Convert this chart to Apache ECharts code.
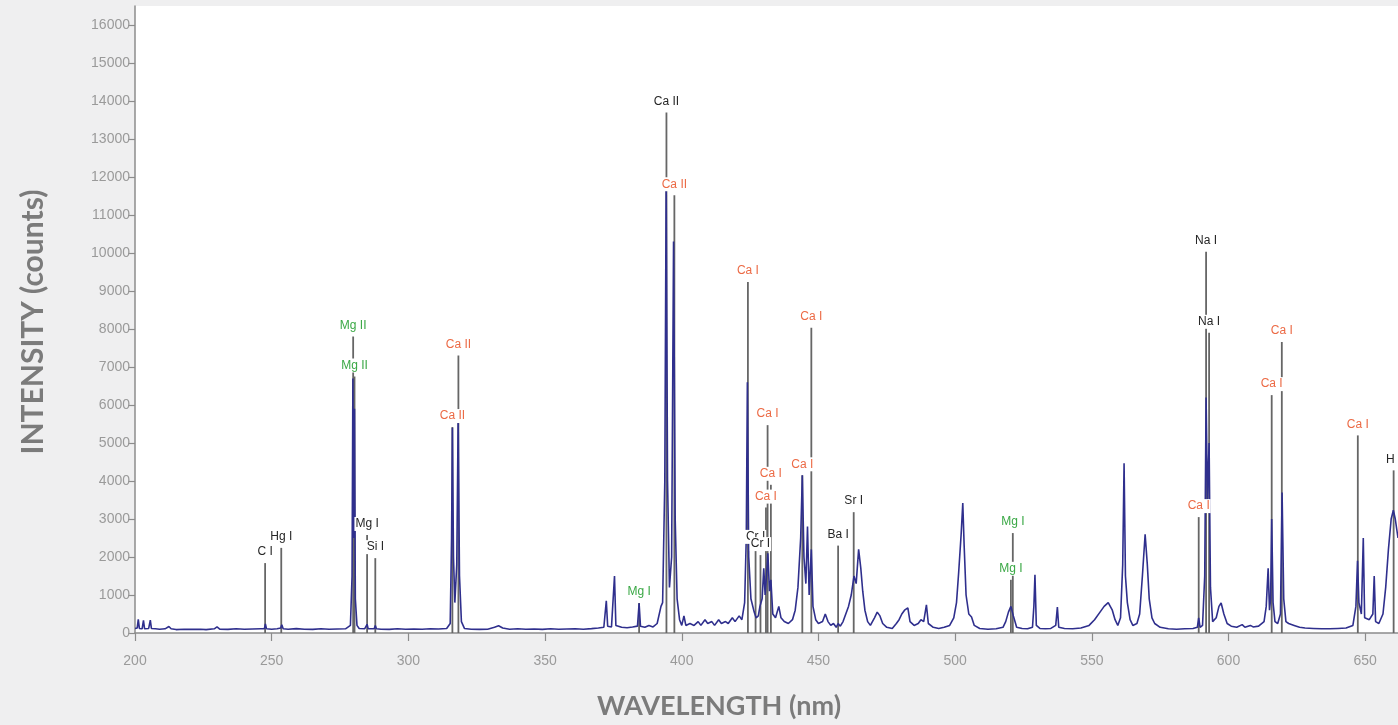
<!DOCTYPE html>
<html>
<head>
<meta charset="utf-8">
<script src="https://cdn.jsdelivr.net/npm/echarts@6/dist/echarts.min.js"></script>
<style>
  html, body { margin: 0; padding: 0; background: #efeff0; }
  #chart { width: 1398px; height: 725px; }
</style>
</head>
<body>
<div id="chart"></div>
<script>
// Emission spectrum, [wavelength nm, intensity counts]
const spectrum = [
  [200,120],[200.8,130],[201.2,360],[201.6,120],[202.6,110],[203.1,330],[203.5,110],[205,120],[205.6,340],[206,120],
  [207.5,110],[209,100],[211,110],[212.4,170],[213.2,110],[215,90],[218,100],[221,95],[224,100],[226,90],[229,110],
  [230,160],[231,100],[234,95],[237,110],[240,100],[243,105],[246,110],[247.3,110],[247.7,240],[248.1,110],[250,100],
  [252,110],[253.3,130],[253.7,220],[254.2,110],[256,100],[259,115],[262,100],[265,95],[268,110],[271,100],[274,105],
  [277,110],[278.8,200],[279.4,1500],[279.7,6700],[280.0,2500],[280.3,5900],[280.6,900],[281.2,200],[282,120],[284,110],
  [284.9,230],[285.3,110],[287.5,110],[287.9,200],[288.3,110],[290,100],[293,95],[296,110],[299,100],[302,105],[305,100],
  [308,110],[311,105],[314,120],[315.3,250],[315.8,2500],[316.1,5400],[316.5,2000],[317.0,800],[317.7,1800],[318.2,5600],
  [318.7,1500],[319.4,300],[320.5,120],[323,100],[326,95],[329,100],[331.5,150],[333,190],[334.5,130],[337,100],[340,110],
  [343,100],[346,105],[349,95],[352,110],[355,100],[358,105],[361,110],[364,100],[367,115],[369.5,130],[371.5,150],
  [372.4,850],[372.9,180],[374.3,160],[375.4,1500],[375.9,200],[378,150],[380,140],[382,160],[383.8,180],[384.4,780],
  [384.9,180],[386.5,150],[388,200],[389.5,160],[391,250],[392.4,700],[393.0,800],[393.8,4000],[394.3,11900],[394.8,4000],
  [395.5,1200],[396.3,2000],[397.0,10300],[397.6,3000],[398.3,900],[399.2,350],[400,200],[400.8,450],[401.5,200],[403,250],
  [404.5,200],[406,300],[407,200],[408.5,350],[409.5,250],[411,300],[412,200],[413.5,350],[414.5,250],[416,300],[417,250],
  [418.5,400],[419.5,300],[421,450],[422,350],[423,800],[423.6,2500],[424.0,6600],[424.5,2000],[425.3,900],[426.5,550],
  [427.2,400],[428,450],[428.6,700],[429.4,900],[430.0,1700],[430.5,1000],[431.0,1500],[431.5,2100],[432.1,1100],
  [432.6,1400],[433.3,500],[434.3,400],[435.5,700],[436.3,400],[437.5,300],[439,250],[440.5,350],[441.5,600],[442.5,1200],
  [443.5,2500],[444.1,4150],[444.7,2000],[445.4,1300],[446.0,2800],[446.6,1000],[447.4,2200],[448.0,700],[449,350],
  [450,250],[451.5,300],[452.5,500],[453.5,300],[454.5,200],[455.5,250],[456.5,150],[457.2,250],[458,180],[459,300],
  [460,500],[461,700],[462,1000],[463,1500],[463.8,1300],[464.7,2200],[465.5,1700],[466.2,1100],[467,600],[468,300],
  [469,200],[470.5,400],[471.5,550],[472.5,450],[473.5,250],[475,150],[477,120],[478.5,250],[479.5,350],[480.5,500],
  [481.5,600],[482.7,660],[483.5,300],[485,200],[486.5,250],[487.5,350],[488.5,300],[489.5,740],[490.2,250],[492,150],
  [494,120],[496,150],[498,200],[499.5,400],[500.5,800],[501.3,1600],[502.2,2600],[502.8,3420],[503.3,2300],[504,1000],
  [505,500],[506,420],[507,200],[509,120],[512,100],[515,110],[517.5,150],[518.5,300],[519.5,550],[520.4,700],[521.3,450],
  [522.5,150],[524.5,120],[526.5,110],[528.3,150],[528.8,700],[529.2,1530],[529.7,200],[531,120],[533,110],[535,120],
  [536.8,200],[537.4,680],[537.9,150],[540,120],[543,110],[546,130],[549,200],[551,350],[553,550],[554.5,700],[556,800],
  [557.5,600],[558.5,350],[559.5,200],[560.5,400],[561.3,1800],[561.8,4470],[562.3,1500],[563,800],[564,350],[565,200],
  [566.5,250],[567.5,500],[568.5,1500],[569.5,2600],[570.3,1800],[571,900],[572,400],[573,250],[575,150],[578,110],
  [581,100],[584,110],[587,120],[588.6,150],[589.1,400],[589.6,150],[590.5,200],[591.3,1500],[591.8,6200],[592.3,3500],
  [592.9,5000],[593.4,1200],[594.2,300],[595.5,400],[596.5,700],[597.3,790],[598.3,500],[599.5,250],[601,180],[603,150],
  [605,220],[606,150],[608,200],[609,160],[611,180],[613,300],[613.8,700],[614.5,1700],[615.0,600],[615.4,900],
  [615.8,3000],[616.3,800],[617,300],[618,250],[619,500],[619.6,3700],[620.2,900],[621,300],[622,250],[624,200],
  [626,150],[628,130],[631,120],[634,110],[637,110],[640,120],[643,130],[645.5,200],[646.6,700],[647.2,1900],[647.7,800],
  [648.6,500],[649.3,2500],[649.8,400],[651.5,350],[652.8,500],[653.3,1500],[653.8,300],[655,250],[656.5,500],
  [657.5,1200],[658.5,2200],[659.5,3000],[660.3,3230],[661,3000],[662,2500]
];

// Identified emission lines, [wavelength nm, marker height counts, species]
const linesBlack = [
  [247.6, 1840, 'C I'], [253.5, 2240, 'Hg I'], [284.9, 2580, 'Mg I'], [287.9, 1970, 'Si I'],
  [394.4, 13700, 'Ca II'], [427.0, 2240, 'Cr I'], [428.8, 2050, 'Cr I'],
  [457.2, 2300, 'Ba I'], [462.9, 3180, 'Sr I'], [591.8, 10030, 'Na I'], [592.9, 7900, 'Na I'],
  [660.4, 4280, 'H I']
];
const linesOrange = [
  [316.1, 5420, 'Ca II'], [318.3, 7300, 'Ca II'], [397.3, 11520, 'Ca II'],
  [424.2, 9240, 'Ca I'], [431.4, 5470, 'Ca I'], [432.6, 3900, 'Ca I'], [430.8, 3300, 'Ca I'],
  [444.1, 4150, 'Ca I'], [447.4, 8030, 'Ca I'], [589.1, 3050, 'Ca I'],
  [615.8, 6260, 'Ca I'], [619.5, 7660, 'Ca I'], [647.3, 5200, 'Ca I']
];
const linesGreen = [
  [279.8, 7800, 'Mg II'], [280.3, 6750, 'Mg II'], [384.4, 790, 'Mg I'],
  [521.1, 2630, 'Mg I'], [520.4, 1400, 'Mg I']
];

const xTicks = [200, 250, 300, 350, 400, 450, 500, 550, 600, 650];
const yTicks = [0, 1000, 2000, 3000, 4000, 5000, 6000, 7000, 8000, 9000, 10000, 11000, 12000, 13000, 14000, 15000, 16000];

const labelColors = { black: '#262626', orange: '#ec6a45', green: '#3aa845' };
const annotations = []
  .concat(linesBlack.map(d => d.concat('black')))
  .concat(linesOrange.map(d => d.concat('orange')))
  .concat(linesGreen.map(d => d.concat('green')));

const chart = echarts.init(document.getElementById('chart'));

chart.setOption({
  backgroundColor: '#efeff0',
  animation: false,
  grid: { left: 135, right: 0, top: 6, bottom: 92, show: true, backgroundColor: '#ffffff', borderWidth: 0 },
  xAxis: {
    type: 'value', min: 200, max: 662,
    axisLine: { show: true, lineStyle: { color: '#8c8c8c', width: 1.5 } },
    axisTick: { show: true, length: 8, customValues: xTicks, lineStyle: { color: '#8c8c8c', width: 1.2 } },
    axisLabel: { customValues: xTicks, color: '#9a9a9a', fontSize: 14, fontFamily: 'Liberation Sans', margin: 21,
      formatter: v => String(v) },
    splitLine: { show: false }
  },
  yAxis: {
    type: 'value', min: 0, max: 16500,
    axisLine: { show: true, lineStyle: { color: '#8c8c8c', width: 1.5 } },
    axisTick: { show: true, length: 7, customValues: yTicks, lineStyle: { color: '#8c8c8c', width: 1.2 } },
    axisLabel: { customValues: yTicks, color: '#9a9a9a', fontSize: 14, fontFamily: 'Liberation Sans', margin: 5,
      formatter: v => String(v) },
    splitLine: { show: false }
  },
  graphic: [
    { type: 'text', x: 719, y: 706, style: {
        text: 'WAVELENGTH (nm)', fill: '#7b7b7b', font: 'bold 27px Lato', align: 'center', verticalAlign: 'middle' } },
    { type: 'text', x: 33, y: 322, rotation: Math.PI / 2, style: {
        text: 'INTENSITY (counts)', fill: '#7b7b7b', font: 'bold 30px Lato', align: 'center', verticalAlign: 'middle' } }
  ],
  series: [
    {
      // vertical marker bars for identified lines
      type: 'custom', z: 1, silent: true,
      data: annotations,
      encode: { x: 0, y: 1 },
      renderItem: function (params, api) {
        const p0 = api.coord([api.value(0), 0]);
        const p1 = api.coord([api.value(0), api.value(1)]);
        return { type: 'line', shape: { x1: p0[0], y1: p0[1], x2: p1[0], y2: p1[1] },
          style: { stroke: '#666666', lineWidth: 1.8 } };
      }
    },
    {
      type: 'line', z: 2, data: spectrum, showSymbol: false, silent: true,
      lineStyle: { color: '#2f2f8d', width: 1.6 }
    },
    {
      // species labels above each marker
      type: 'custom', z: 3, silent: true,
      data: annotations,
      encode: { x: 0, y: 1 },
      renderItem: function (params, api) {
        const d = annotations[params.dataIndex];
        const p1 = api.coord([d[0], d[1]]);
        return { type: 'text', x: p1[0], y: p1[1] - 11,
          style: { text: d[2], fill: labelColors[d[3]], font: '12px "Liberation Sans"', align: 'center', verticalAlign: 'middle',
            backgroundColor: '#ffffff', padding: [1, 1] } };
      }
    }
  ]
});
</script>
</body>
</html>
